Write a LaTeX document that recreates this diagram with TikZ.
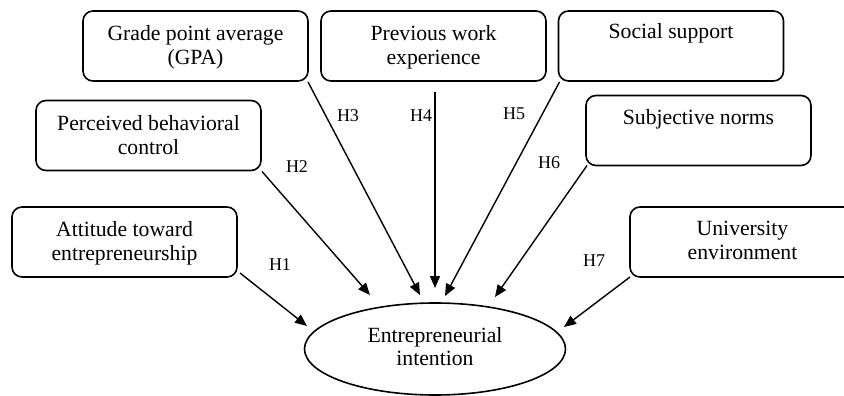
\documentclass[tikz,border=0pt]{standalone}
\usepackage{fontspec}
\setmainfont{Liberation Serif}
\usetikzlibrary{arrows.meta,calc,shapes.geometric}
\begin{document}
\begin{tikzpicture}[x=1pt,y=-1pt,
  box/.style={draw, line width=1.6pt, rounded corners=10pt, minimum width=225pt, minimum height=70pt, inner sep=0pt, outer sep=0pt},
  boxtext/.style={anchor=north, inner sep=0pt, align=center, font=\fontsize{21.7}{24}\selectfont},
  hyp/.style={font=\fontsize{18}{20}\selectfont, inner sep=0pt},
  link/.style={line width=1.4pt, -{Triangle[length=12pt,width=10pt]}}]
\useasboundingbox (0,0) rectangle (844,396);
% boxes
\node[box] (gpa) at (195.5,46) {};
\node[box] (pwe) at (433.5,46) {};
\node[box] (ss)  at (671,46) {};
\node[box] (sn)  at (698.5,130.5) {};
\node[box] (pbc) at (148.5,135.5) {};
\node[box] (att) at (124.5,242) {};
\node[box] (ue)  at (742.5,242) {};
% texts
\node[boxtext] (gpaT) at ($(gpa.north)+(0,14.2)$) {Grade point average\\(GPA)};
\node[boxtext] (pweT) at ($(pwe.north)+(0,14.2)$) {Previous work\\experience};
\node[boxtext] (ssT)  at ($(ss.north)+(0,12.5)$) {Social support};
\node[boxtext] (snT)  at ($(sn.north)+(0,14.2)$) {Subjective norms};
\node[boxtext] (pbcT) at ($(pbc.north)+(0,15)$) {Perceived behavioral\\control};
\node[boxtext] (attT) at ($(att.north)+(0,14.2)$) {Attitude toward\\entrepreneurship};
\node[boxtext] (ueT)  at ($(ue.north)+(0,14.2)$) {University\\environment};
% outcome
\node[ellipse, draw, line width=1.6pt, minimum width=261pt, minimum height=92pt, inner sep=0pt] (ei) at (435,349) {};
\node[inner sep=0pt, align=center, font=\fontsize{21.7}{23.5}\selectfont] (eiT) at (435,346.5) {Entrepreneurial\\intention};
% arrow tips
\coordinate (t1) at (307,326);
\coordinate (t2) at (370,295);
\coordinate (t3) at (420,295);
\coordinate (t4) at (435,288);
\coordinate (t5) at (445,296);
\coordinate (t6) at (495,297);
\coordinate (t7) at (564,327);
% connectors
\draw[link] ($(att.south east)+(3,-4)$) -- (t1);
\draw[link] ($(pbc.south east)+(1,1)$) -- (t2);
\draw[link] ($(gpa.south east)+(0,1)$) -- (t3);
\draw[link] ($(pwe.south)+(1.5,11)$) -- (t4);
\draw[link] ($(ss.south west)+(1,1)$) -- (t5);
\draw[link] ($(sn.south west)+(1,0)$) -- (t6);
\draw[link] ($(ue.south west)+(0,0)$) -- (t7);
% labels
\node[hyp] (h1) at (280,265) {H1};
\node[hyp] (h2) at (297,167) {H2};
\node[hyp] (h3) at (348,116) {H3};
\node[hyp] (h4) at (421,116) {H4};
\node[hyp] (h5) at (514,114) {H5};
\node[hyp] (h6) at (549,163) {H6};
\node[hyp] (h7) at (594,261) {H7};
\end{tikzpicture}
\end{document}
